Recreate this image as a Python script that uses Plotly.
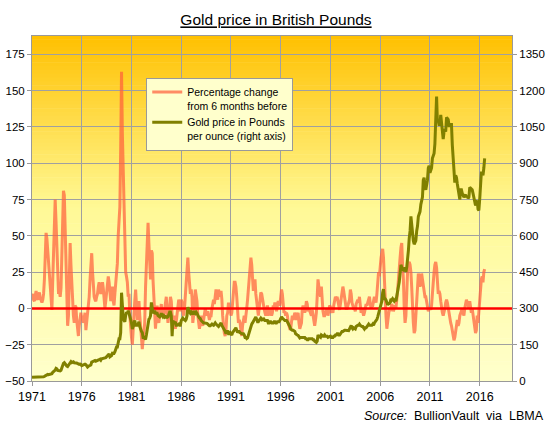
import plotly.graph_objects as go
import pandas as pd

# Monthly values, Jan 1971 .. Jul 2016
GOLD_GBP = [
    15, 15, 15, 15, 16, 16, 16, 16, 16, 17, 17, 17,            # 1971
    17, 18, 18, 19, 21, 24, 26, 27, 26, 27, 27, 27,            # 1972
    30, 36, 38, 40, 45, 52, 50, 44, 43, 42, 42, 44,            # 1973
    56, 66, 73, 76, 70, 65, 62, 60, 65, 70, 76, 80,            # 1974
    76, 76, 79, 75, 76, 74, 74, 72, 70, 69, 70, 69,            # 1975
    64, 65, 69, 70, 70, 68, 61, 58, 61, 62, 62, 66,            # 1976
    78, 80, 84, 86, 85, 82, 83, 84, 84, 88, 90, 86,            # 1977
    92, 93, 94, 92, 94, 96, 100, 104, 108, 112, 100, 103,      # 1978
    105, 115, 115, 114, 120, 130, 140, 140, 160, 175, 175, 200,  # 1979
    365, 290, 265, 250, 245, 270, 285, 280, 290, 280, 270, 255,  # 1980
    240, 215, 225, 245, 250, 230, 230, 230, 235, 245, 225, 210,  # 1981
    205, 200, 180, 180, 175, 172, 190, 220, 250, 255, 260, 270,  # 1982
    325, 300, 280, 285, 290, 280, 280, 280, 270, 265, 265, 270,  # 1983
    280, 270, 265, 270, 265, 270, 260, 265, 265, 275, 285, 285,  # 1984
    270, 185, 250, 240, 240, 245, 230, 230, 235, 235, 230, 230,  # 1985
    250, 255, 260, 255, 250, 250, 255, 270, 305, 290, 285, 280,  # 1986
    285, 280, 275, 285, 285, 280, 285, 280, 270, 265, 260, 258,  # 1987
    250, 245, 245, 240, 240, 240, 240, 238, 235, 230, 228, 228,  # 1988
    232, 235, 232, 230, 235, 240, 235, 230, 228, 225, 230, 235,  # 1989
    240, 230, 225, 215, 210, 205, 195, 205, 205, 195, 195, 200,  # 1990
    195, 190, 200, 205, 210, 215, 220, 210, 200, 205, 205, 200,  # 1991
    195, 195, 195, 195, 190, 180, 180, 175, 178, 190, 205, 215,  # 1992
    225, 235, 240, 245, 255, 260, 265, 255, 245, 245, 250, 255,  # 1993
    260, 255, 260, 250, 255, 250, 250, 250, 250, 240, 240, 245,  # 1994
    245, 240, 240, 240, 245, 245, 240, 240, 245, 245, 245, 250,  # 1995
    260, 265, 260, 255, 255, 250, 250, 250, 245, 240, 230, 225,  # 1996
    215, 210, 210, 210, 208, 205, 195, 190, 190, 188, 182, 178,  # 1997
    180, 180, 177, 180, 180, 180, 175, 175, 170, 170, 175, 175,  # 1998
    175, 175, 175, 170, 170, 165, 162, 160, 165, 190, 185, 180,  # 1999
    180, 190, 185, 185, 185, 190, 185, 185, 185, 180, 182, 185,  # 2000
    185, 180, 180, 180, 185, 185, 190, 190, 195, 195, 190, 190,  # 2001
    195, 205, 205, 205, 210, 210, 210, 210, 210, 210, 208, 215,  # 2002
    225, 230, 220, 215, 220, 215, 215, 225, 230, 230, 230, 235,  # 2003
    230, 225, 225, 225, 220, 215, 220, 220, 225, 230, 235, 230,  # 2004
    230, 230, 230, 235, 230, 240, 245, 245, 255, 265, 280, 290,  # 2005
    310, 320, 330, 365, 380, 340, 340, 335, 320, 315, 320, 320,  # 2006
    325, 340, 335, 340, 335, 330, 335, 330, 350, 365, 390, 410,  # 2007
    450, 480, 470, 460, 460, 455, 470, 450, 470, 500, 540, 590,  # 2008
    620, 680, 650, 600, 580, 565, 570, 580, 620, 640, 680, 690,  # 2009
    700, 730, 740, 760, 830, 840, 800, 790, 810, 830, 880, 890,  # 2010
    860, 870, 880, 920, 930, 940, 980, 1100, 1175, 1070, 1080, 1060,  # 2011
    1060, 1100, 1060, 1035, 1000, 1030, 1040, 1030, 1090, 1085, 1080, 1055,  # 2012
    1055, 1060, 1060, 975, 920, 860, 820, 850, 840, 815, 785, 765,  # 2013
    750, 790, 790, 775, 765, 760, 765, 770, 760, 765, 755, 760,  # 2014
    800, 795, 790, 790, 775, 755, 730, 725, 740, 745, 710, 705,  # 2015
    750, 830, 860, 860, 850, 880, 920,                          # 2016
]

PCT_CHANGE_6M = [
    8, 10, 6, 5, 9, 12, 7, 6, 9, 11, 7, 5,                  # 1971
    4, 6, 10, 20, 38, 52, 48, 40, 30, 18, 10, 3,            # 1972
    -1, 20, 45, 65, 75, 60, 40, 25, 10, 12, 8, 14,          # 1973
    40, 65, 81, 78, 55, 30, 10, -12, -5, 20, 45, 30,        # 1974
    10, 6, -5, -10, 2, 1, -8, -15, -19, -12, -5, -3,        # 1975
    -8, -5, -10, -6, -3, -15, -10, -5, 2, 8, 20, 30,        # 1976
    38, 25, 12, 8, 6, 5, 8, 10, 15, 18, 12, 10,             # 1977
    15, 18, 14, 8, 0, 5, 12, 20, 22, 18, 8, 5,              # 1978
    10, 15, 5, 2, 10, 18, 25, 31, 50, 63, 70, 110,          # 1979
    163, 120, 95, 60, 30, 25, 22, 18, 8, 10, -5, -15,       # 1980
    -20, -25, -12, -5, 5, 13, -5, -8, -2, 5, -5, -17,       # 1981
    -20, -28, -22, -15, -10, 15, 35, 50, 59, 45, 30, 20,    # 1982
    40, 38, 20, 10, 0, -14, -5, 2, -8, -10, -5, 0,          # 1983
    3, -5, -2, -5, 0, 5, 8, -3, -10, -5, 2, 8,              # 1984
    5, -10, -14, -12, -5, -14, -8, -3, 2, 6, 4, -2,         # 1985
    6, 4, -2, -5, 0, 8, 15, 30, 35, 25, 15, 10,             # 1986
    13, 8, -10, -5, 0, 13, 10, 5, -5, -10, -14, -10,        # 1987
    -5, -10, -12, -8, -5, 0, -3, -5, -2, -5, -8, -5,        # 1988
    -5, 0, 2, 6, 3, 8, 13, 10, 6, 13, 10, 8,                # 1989
    12, 6, -5, -12, -17, -19, -15, -5, -3, 4, -2, 0,        # 1990
    -5, -3, 5, 10, 18, 18, 15, 8, -5, -10, -8, -10,         # 1991
    -15, -19, -12, -8, -5, -10, -6, 0, 6, 15, 20, 28,       # 1992
    35, 30, 18, 12, 18, 20, 10, 4, 0, -5, 0, 8,             # 1993
    11, 10, 6, 2, 0, -3, -5, -1, 2, -5, -3, 0,              # 1994
    -1, -5, -3, 2, 0, 4, 2, -2, 2, 5, 3, 2,                 # 1995
    8, 13, 10, 4, -3, -2, -5, -3, -5, -10, -12, -14,        # 1996
    -14, -10, -5, -8, -5, -3, -5, -8, -5, -3, -10, -14,     # 1997
    -12, -10, -1, 2, 0, -3, 0, 5, 3, -2, 0, -2,             # 1998
    -3, -5, -1, -6, -10, -12, -8, -3, 8, 20, 15, 10,        # 1999
    8, 15, 5, -2, -5, -5, -3, -2, 0, -5, 0, 2,              # 2000
    1, -3, -1, -3, 2, 5, 8, 6, 8, 5, 0, -1,                 # 2001
    3, 8, 12, 15, 12, 8, 3, 0, 0, 2, 3, 6,                  # 2002
    13, 10, 4, 2, 0, 0, -2, 3, 5, 6, 4, 8,                  # 2003
    2, -3, 0, -2, -5, -3, 0, 3, 2, 4, 5, 8,                 # 2004
    3, 0, 2, 2, 5, 8, 6, 4, 10, 18, 25, 22,                 # 2005
    30, 35, 38, 41, 35, 18, 5, -5, -14, -8, -5, 0,          # 2006
    -2, 2, 3, 1, -2, 0, 2, 0, 5, 12, 20, 31,                # 2007
    35, 42, 45, 30, 20, 0, -10, -5, 15, 25, 31, 32,         # 2008
    30, 25, 15, -3, -10, -17, -15, -5, 5, 12, 24, 22,       # 2009
    15, 18, 24, 20, 15, 10, 8, 8, 5, 0, -2, 0,              # 2010
    0, -1, 2, 10, 20, 25, 30, 32, 28, 15, 10, 12,           # 2011
    10, 5, 0, -3, -5, -3, 0, 4, 6, 4, 0, -5,                # 2012
    -8, -10, -12, -15, -18, -22, -20, -15, -10, -8, -12, -10,  # 2013
    -5, -3, -2, 0, -3, -5, 0, 3, 6, 4, 2, 0,                # 2014
    5, 2, -3, 0, -5, -8, -12, -17, -15, -5, -10, -1,        # 2015
    2, 15, 20, 22, 18, 25, 27,                              # 2016
]

START_MONTH = "1971-01-01"
X_RANGE = ["1971-01-01", "2019-04-01"]
Y_LEFT_RANGE = [-50, 187.6]
Y_RIGHT_RANGE = [0, 1425.6]
ZERO_LEVEL = 0

TITLE = "Gold price in British Pounds"
NAME_PCT = "Percentage change<br>from 6 months before"
NAME_GOLD = "Gold price in Pounds<br>per ounce (right axis)"
SOURCE = "<i>Source:</i>  BullionVault  via  LBMA"

FONT = "Liberation Sans, Arial, sans-serif"

dates = pd.date_range(START_MONTH, periods=len(GOLD_GBP), freq="MS")

fig = go.Figure()

fig.add_trace(go.Scatter(
    x=dates, y=PCT_CHANGE_6M, name=NAME_PCT, mode="lines",
    line=dict(color="rgba(255,95,60,0.72)", width=3),
    yaxis="y", hoverinfo="skip",
))
fig.add_trace(go.Scatter(
    x=X_RANGE, y=[ZERO_LEVEL, ZERO_LEVEL], mode="lines",
    line=dict(color="#FF0000", width=2.5), showlegend=False,
    yaxis="y", hoverinfo="skip",
))
fig.add_trace(go.Scatter(
    x=dates, y=GOLD_GBP, name=NAME_GOLD, mode="lines",
    line=dict(color="#808000", width=3),
    yaxis="y2", hoverinfo="skip",
))

# background gradient (orange-gold at top to pale yellow at bottom)
stops = [(0.0, (255, 192, 0)), (0.5, (255, 249, 150)), (1.0, (255, 255, 204))]


def grad_color(t):
    for (t0, c0), (t1, c1) in zip(stops[:-1], stops[1:]):
        if t <= t1:
            f = (t - t0) / (t1 - t0)
            return "rgb(%d,%d,%d)" % tuple(round(a + (b - a) * f) for a, b in zip(c0, c1))
    return "rgb(%d,%d,%d)" % stops[-1][1]


N = 90
shapes = []
for i in range(N):
    t = (i + 0.5) / N
    shapes.append(dict(
        type="rect", xref="paper", yref="paper", layer="below",
        x0=0, x1=1, y0=1 - (i + 1) / N, y1=1 - i / N + 0.002,
        fillcolor=grad_color(t), line=dict(width=0),
    ))

grid = "#A0A0A0"
axis_line = "#999999"

W, H = 552, 427

fig.update_layout(
    width=W, height=H,
    margin=dict(l=32, r=40, t=36, b=46, autoexpand=False),
    paper_bgcolor="white",
    plot_bgcolor="rgba(0,0,0,0)",
    font=dict(family=FONT, size=12, color="black"),
    title=dict(
        text=TITLE, x=276 / W, xref="container", xanchor="center",
        y=1 - 20 / H, yref="container", yanchor="middle",
        font=dict(family=FONT, size=15.5, color="black", lineposition="under"),
    ),
    shapes=shapes,
    xaxis=dict(
        type="date", range=X_RANGE, tick0=START_MONTH, dtick="M60",
        tickformat="%Y", showgrid=True, gridcolor=grid, gridwidth=1,
        showline=True, linecolor=axis_line, linewidth=1, mirror=True,
        ticks="outside", ticklen=4, tickcolor=axis_line, automargin=False,
        tickfont=dict(family=FONT, size=12.5), zeroline=False,
    ),
    yaxis=dict(
        range=Y_LEFT_RANGE, tick0=0, dtick=25, showgrid=True,
        gridcolor=grid, gridwidth=1, zeroline=False, automargin=False,
        showline=True, linecolor=axis_line, linewidth=1,
        ticks="outside", ticklen=4, tickcolor=axis_line,
        tickfont=dict(family=FONT, size=11.5),
    ),
    yaxis2=dict(
        range=Y_RIGHT_RANGE, tick0=0, dtick=150, overlaying="y", side="right",
        showgrid=False, zeroline=False, showline=True, linecolor=axis_line,
        linewidth=1, ticks="outside", ticklen=4, tickcolor=axis_line,
        automargin=False, tickfont=dict(family=FONT, size=11.5),
    ),
    legend=dict(
        x=0.238, y=0.879, xanchor="left", yanchor="top",
        bgcolor="#FFFFCC", bordercolor=axis_line, borderwidth=1,
        font=dict(family=FONT, size=10.5, color="black"),
        valign="top", itemwidth=30, tracegroupgap=0,
    ),
    showlegend=True,
    annotations=[dict(
        text=SOURCE, xref="paper", yref="paper", x=1.07, y=-0.1025,
        xanchor="right", yanchor="middle", showarrow=False,
        font=dict(family=FONT, size=12.5, color="black"),
    )],
)

# remove the browser's default 8px page margin so the figure fills the window
fig.write_html(
    "out.html",
    config={"displayModeBar": False},
    post_script="document.body.style.margin='0';",
)
